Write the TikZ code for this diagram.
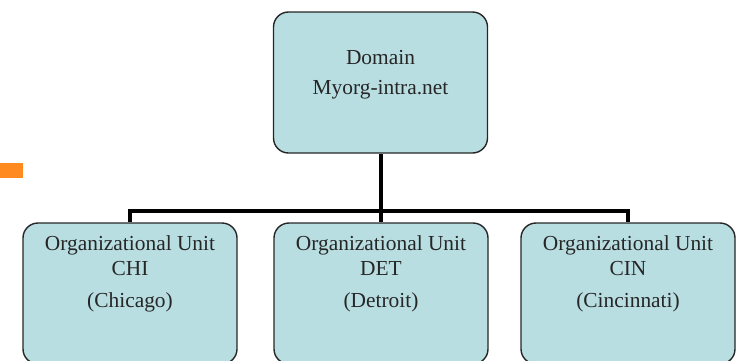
\documentclass[tikz,border=0pt]{standalone}
\usepackage{fontspec}
\setmainfont{Liberation Serif}
\usepackage{tikz}
\usepackage{xcolor}
\definecolor{ou_fill}{RGB}{185,222,226}
\definecolor{ou_orange}{HTML}{FF8A1F}
\usetikzlibrary{positioning,calc}
\tikzset{BOX/.style={rectangle,rounded corners=7.5pt,draw=black!85,line width=0.7pt,fill=ou_fill,minimum width=107pt,minimum height=70.5pt,inner sep=0pt}}
\tikzset{LABEL/.style={align=center,inner sep=0pt,text=black!85,font=\fontsize{10.7pt}{12.5pt}\selectfont}}
\tikzset{LINK/.style={line width=2pt,black}}

\begin{document}
\begin{tikzpicture}[x=0.5pt,y=-0.5pt]

\clip (0,0) rectangle (737,360);

\fill[ou_orange] (0,163) rectangle (23,178);

\node[BOX] (n_domain) at (380.5,82.5) {};
\node[LABEL, font=\fontsize{10.7pt}{15pt}\selectfont] (t_domain) at ($(n_domain.north)+(0,63)$) {Domain\\Myorg-intra.net};

\node[BOX] (n_chi) at (130,293.5) {};
\node[BOX] (n_det) at (381,293.5) {};
\node[BOX] (n_cin) at (628,293.5) {};

\node[LABEL] (t_chi) at ($(n_chi.north)+(0,52)$) {Organizational Unit\\CHI\\[3.5pt](Chicago)};
\node[LABEL] (t_det) at ($(n_det.north)+(0,52)$) {Organizational Unit\\DET\\[3.5pt](Detroit)};
\node[LABEL] (t_cin) at ($(n_cin.north)+(0,52)$) {Organizational Unit\\CIN\\[3.5pt](Cincinnati)};

\coordinate (c_bus) at ($(n_domain.south)+(0,57)$);
\draw[LINK] (n_domain.south) -- (c_bus);
\draw[LINK] (n_chi.north) |- (c_bus) -| (n_cin.north);
\draw[LINK] (c_bus-|n_det.north) -- (n_det.north);

\end{tikzpicture}
\end{document}
